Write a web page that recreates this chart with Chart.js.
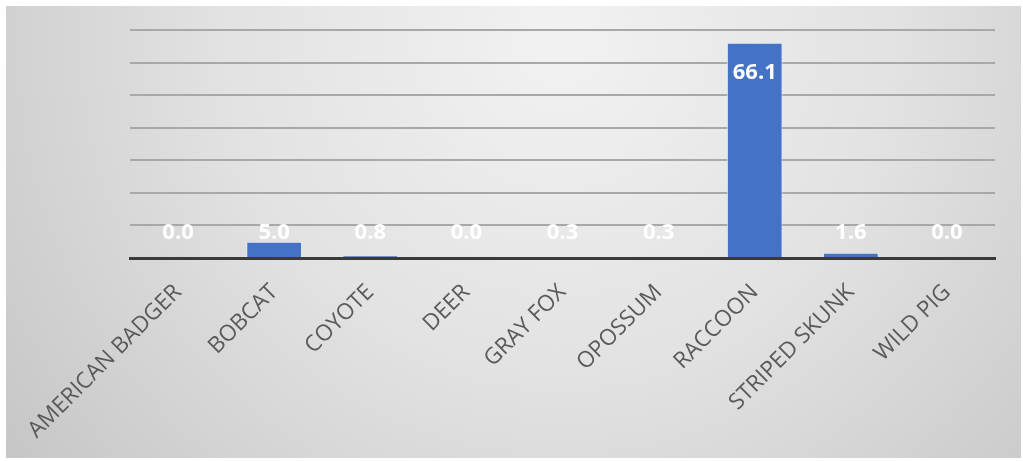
<!DOCTYPE html>
<html>
<head>
<meta charset="utf-8">
<title>Animals</title>
<script src="https://cdn.jsdelivr.net/npm/chart.js@4/dist/chart.umd.min.js"></script>
<style>
  html, body { margin: 0; padding: 0; background: #ffffff; }
  #wrap { width: 1023px; height: 461px; position: relative; }
</style>
</head>
<body>
<div id="wrap"><canvas id="chart" width="1023" height="461"></canvas></div>
<script>
// Categories and values
const species = ['AMERICAN BADGER', 'BOBCAT', 'COYOTE', 'DEER', 'GRAY FOX', 'OPOSSUM', 'RACCOON', 'STRIPED SKUNK', 'WILD PIG'];
const percentages = [0.0, 5.0, 0.8, 0.0, 0.3, 0.3, 66.1, 1.6, 0.0];
const yTicks = [0, 10, 20, 30, 40, 50, 60, 70];

// Soft gray panel behind the chart
const panelBackground = {
  id: 'panelBackground',
  beforeDraw(chart) {
    const ctx = chart.ctx;
    const w = chart.width, h = chart.height;
    ctx.save();
    ctx.fillStyle = '#ffffff';
    ctx.fillRect(0, 0, w, h);
    const g = ctx.createRadialGradient(560, 40, 20, 560, 40, 720);
    g.addColorStop(0, '#f1f1f1');
    g.addColorStop(0.45, '#e2e2e2');
    g.addColorStop(1, '#c4c4c4');
    ctx.fillStyle = g;
    ctx.fillRect(6, 6, w - 8, h - 9);
    ctx.restore();
  }
};

// White value labels near the top of each bar
const valueLabels = {
  id: 'valueLabels',
  afterDatasetsDraw(chart) {
    const ctx = chart.ctx;
    const meta = chart.getDatasetMeta(0);
    const base = chart.scales.y.getPixelForValue(0);
    ctx.save();
    ctx.font = 'bold 22px "Open Sans", sans-serif';
    ctx.fillStyle = '#ffffff';
    ctx.textAlign = 'center';
    ctx.textBaseline = 'middle';
    meta.data.forEach((bar, i) => {
      const y = Math.min(bar.y + 30, base - 25);
      ctx.fillText(percentages[i].toFixed(1), bar.x, y);
    });
    ctx.restore();
  }
};

new Chart(document.getElementById('chart'), {
  type: 'bar',
  data: {
    labels: species,
    datasets: [{
      data: percentages,
      backgroundColor: '#4472c4',
      borderColor: 'rgba(235,240,250,0.8)',
      borderWidth: 1,
      categoryPercentage: 1,
      barPercentage: 0.58
    }]
  },
  options: {
    responsive: false,
    animation: false,
    devicePixelRatio: 1,
    layout: { padding: { left: 130, right: 28, top: 30, bottom: 0 } },
    plugins: { legend: { display: false }, tooltip: { enabled: false } },
    scales: {
      x: {
        grid: { display: false, drawTicks: false },
        border: { display: true, color: '#3a3a3a', width: 3 },
        ticks: {
          autoSkip: false,
          minRotation: 45,
          maxRotation: 45,
          padding: 21,
          color: '#595959',
          font: { family: '"Open Sans", sans-serif', size: 22.5 }
        },
        afterFit(scale) {
          scale.height = 203;
          scale.paddingLeft = 0;
          scale.paddingRight = 0;
        }
      },
      y: {
        min: 0,
        max: 70,
        afterBuildTicks(scale) { scale.ticks = yTicks.map(v => ({ value: v })); },
        ticks: { display: false },
        border: { display: false },
        grid: {
          drawTicks: false,
          color: ctx => ctx.tick && ctx.tick.value === 0 ? 'rgba(0,0,0,0)' : '#a8a8a8',
          lineWidth: 2
        },
        afterFit(scale) { scale.width = 0; }
      }
    }
  },
  plugins: [panelBackground, valueLabels]
});
</script>
</body>
</html>
